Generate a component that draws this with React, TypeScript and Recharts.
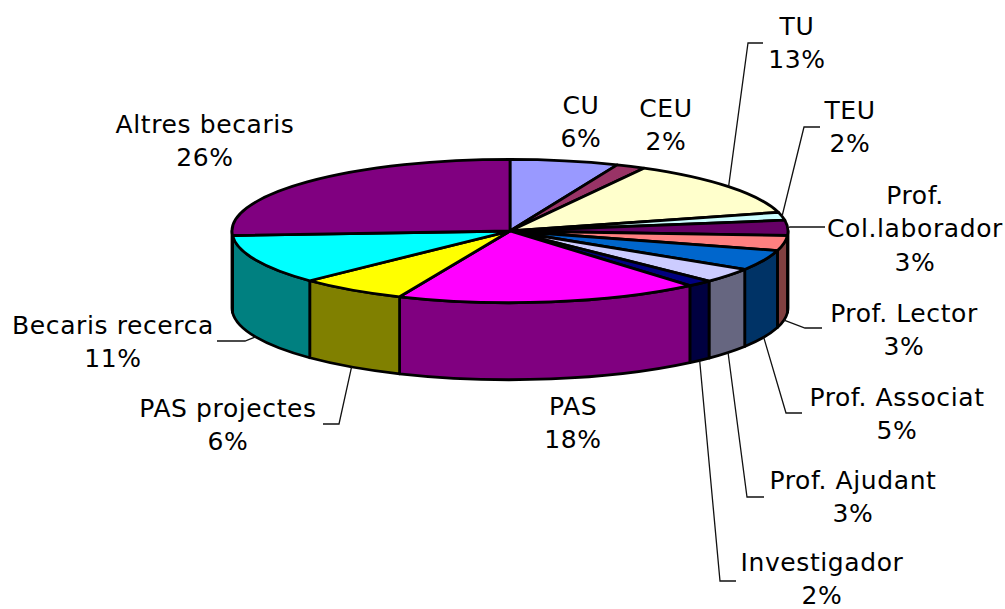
import { Pie, PieChart } from "recharts";

const names = [
  "CU",
  "CEU",
  "TU",
  "TEU",
  "Prof. Col.laborador",
  "Prof. Lector",
  "Prof. Associat",
  "Prof. Ajudant",
  "Investigador",
  "PAS",
  "PAS projectes",
  "Becaris recerca",
  "Altres becaris",
];
const values = [6.3, 1.7, 12.8, 1.8, 3.4, 3.4, 4.6, 3.3, 1.5, 17.7, 6.3, 11.2, 26];
const topColors = [
  "#9999ff", "#993366", "#ffffcc", "#ccffff", "#660066", "#ff8080", "#0066cc",
  "#ccccff", "#000080", "#ff00ff", "#ffff00", "#00ffff", "#800080",
];
const sideColors = [
  "#4d4d80", "#4d1a33", "#808066", "#668080", "#330033", "#804040", "#003366",
  "#666680", "#000040", "#800080", "#808000", "#008080", "#400040",
];

// label placement: text centre, first line y, then the leader's elbow and end
const labelLines = [
  ["CU"],
  ["CEU"],
  ["TU"],
  ["TEU"],
  ["Prof.", "Col.laborador"],
  ["Prof. Lector"],
  ["Prof. Associat"],
  ["Prof. Ajudant"],
  ["Investigador"],
  ["PAS"],
  ["PAS projectes"],
  ["Becaris recerca"],
  ["Altres becaris"],
];
const labelAt = [
  [581, 105], [666, 108], [797, 26], [850, 110], [915, 195], [904, 313], [897, 397],
  [853, 480], [822, 562], [573, 406], [228, 408], [113, 325], [205, 124],
];
const leaders: (number[][] | null)[] = [
  null,
  null,
  [[748, 43], [763, 43]],
  [[804, 127], [820, 127]],
  [[790, 227], [825, 227]],
  [[805, 328], [822, 328]],
  [[786, 413], [802, 413]],
  [[747, 497], [764, 497]],
  [[720, 581], [736, 581]],
  null,
  [[339, 424], [323, 424]],
  [[245, 341], [217, 341]],
  null,
];

const tableData = names.map((name, i) => ({ name, value: values[i], fill: topColors[i] }));

const W = 1005;
const H = 609;
const SQUASH = 0.258;
const DEPTH = 77;
const LINE = 33.6;
const FONT = '"DejaVu Sans", Verdana, sans-serif';

const toRad = (d: number) => (d * Math.PI) / 180;

// point on the top ellipse, angle in degrees clockwise from 12 o'clock
function rimPoint(cx: number, cy: number, r: number, deg: number) {
  return [cx + r * Math.sin(toRad(deg)), cy - r * SQUASH * Math.cos(toRad(deg))];
}

function TopSlice(props: any) {
  const { cx, cy, outerRadius: r, startAngle, endAngle, index } = props;
  const a = 90 - startAngle;
  const b = 90 - endAngle;
  const [x1, y1] = rimPoint(cx, cy, r, a);
  const [x2, y2] = rimPoint(cx, cy, r, b);
  const large = b - a > 180 ? 1 : 0;
  return (
    <path
      d={`M${cx},${cy}L${x1},${y1}A${r},${r * SQUASH} 0 ${large} 1 ${x2},${y2}Z`}
      fill={topColors[index]}
      stroke="#000"
      strokeWidth={2.8}
      strokeLinejoin="round"
    />
  );
}

function WallSlice(props: any) {
  const { cx, cy, outerRadius: r, startAngle, endAngle, index } = props;
  const a = Math.max(90 - startAngle, 90);
  const b = Math.min(90 - endAngle, 270);
  if (b <= a) return <g />;
  const [x1, y1] = rimPoint(cx, cy, r, a);
  const [x2, y2] = rimPoint(cx, cy, r, b);
  const ry = r * SQUASH;
  return (
    <path
      d={`M${x1},${y1}A${r},${ry} 0 0 1 ${x2},${y2}L${x2},${y2 + DEPTH}A${r},${ry} 0 0 0 ${x1},${y1 + DEPTH}Z`}
      fill={sideColors[index]}
      stroke="#000"
      strokeWidth={2.8}
      strokeLinejoin="round"
    />
  );
}

function SliceLabel(props: any) {
  const { cx, cy, outerRadius: r, midAngle, index, percent } = props;
  const mid = 90 - midAngle;
  const [sx, sy] = rimPoint(cx, cy, r, mid);
  const front = mid > 95 && mid < 265;
  const leader = leaders[index];
  const [tx, ty] = labelAt[index];
  const lines = [...labelLines[index], `${Math.round(percent * 100)}%`];
  return (
    <g>
      {leader && (
        <polyline
          points={[[sx, front ? sy + DEPTH : sy], ...leader].map((p) => p.join(",")).join(" ")}
          fill="none"
          stroke="#111"
          strokeWidth={1.3}
        />
      )}
      {lines.map((line, i) => (
        <text
          key={i}
          x={tx}
          y={ty + i * LINE}
          textAnchor="middle"
          dominantBaseline="central"
          fontFamily={FONT}
          fontSize={25}
          letterSpacing={0.6}
          fill="#000"
        >
          {line}
        </text>
      ))}
    </g>
  );
}

export default function App() {
  return (
    <div style={{ position: "absolute", left: 0, top: 0, width: W, height: H, background: "#fff" }}>
      <PieChart width={W} height={H} margin={{ top: 0, right: 0, bottom: 0, left: 0 }}>
        <Pie
          data={tableData}
          dataKey="value"
          nameKey="name"
          cx={510}
          cy={231}
          outerRadius={278}
          startAngle={90}
          endAngle={-270}
          shape={WallSlice}
          isAnimationActive={false}
        />
        <Pie
          data={tableData}
          dataKey="value"
          nameKey="name"
          cx={510}
          cy={231}
          outerRadius={278}
          startAngle={90}
          endAngle={-270}
          shape={TopSlice}
          label={SliceLabel}
          labelLine={false}
          isAnimationActive={false}
        />
      </PieChart>
    </div>
  );
}
